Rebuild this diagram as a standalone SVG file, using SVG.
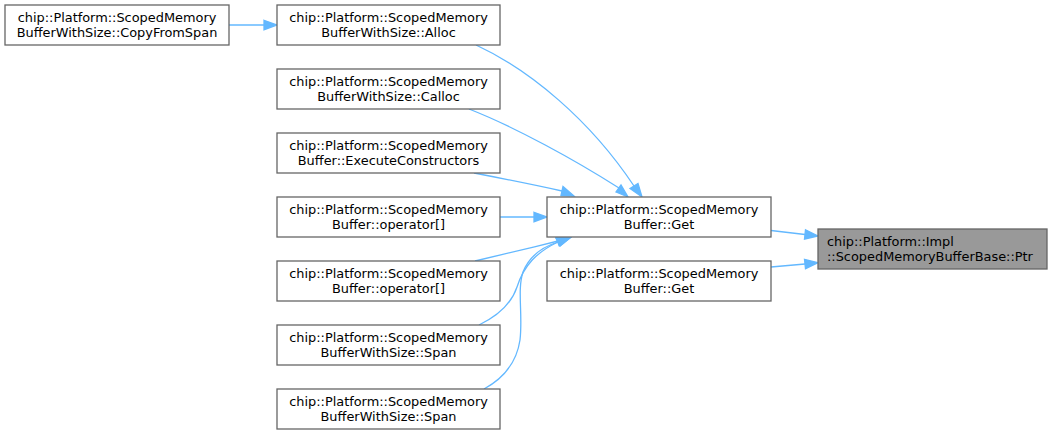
<svg xmlns="http://www.w3.org/2000/svg" width="1052" height="435" viewBox="0 0 1052 435">
<defs>
<style>
.n rect{fill:#ffffff;stroke:#666666;stroke-width:1.3}
.n.hl rect{fill:#999999}
.n text{font-family:"DejaVu Sans",sans-serif;font-size:12.9px;fill:#000000;text-anchor:middle}
.n.hl text{text-anchor:start}
.e path{fill:none;stroke:#63b8ff;stroke-width:1.3}
.e polygon{fill:#63b8ff;stroke:#63b8ff;stroke-width:1.3}
</style>
</defs>
<rect width="1052" height="435" fill="#ffffff"/>
<g id="edges" class="e">
<path d="M229,25 L264,25"/><polygon points="264,20.3 277,25 264,29.7"/>
<path d="M476,45 C530,70 590,120 634,186"/><polygon points="630,188.5 642,197 638,183.5"/>
<path d="M469,109 C515,127 575,160 619,188"/><polygon points="616,192 628,197 621,185"/>
<path d="M474,173 C500,178 535,185 562,191"/><polygon points="561,195.5 574,196 563,186.5"/>
<path d="M500,217 L534,217"/><polygon points="534,212.3 547,217 534,221.7"/>
<path d="M475,261 C500,255 530,248 558,241"/><polygon points="556,236.5 571,237 559,245.5"/>
<path d="M479,325 C500,315 512,302 517,287 C524,265 537,252 558,242"/><polygon points="556,238 571,237 560,246"/>
<path d="M484,389 C506,377 517,360 520,340 C523,315 517,290 523,272 C529,257 542,247 558,242"/><polygon points="556,238 571,237 560,246"/>
<path d="M771,230.5 L805,234.5"/><polygon points="805.5,229.8 818,236 804.5,239.2"/>
<path d="M771,267 L805,264"/><polygon points="804.5,259.3 818,262.7 805.5,268.7"/>
</g>
<g id="n_copyfromspan" class="n"><rect x="5" y="5" width="224" height="40"/><text x="117" y="22">chip::Platform::ScopedMemory</text><text x="117" y="36.5">BufferWithSize::CopyFromSpan</text></g>
<g id="n_alloc" class="n"><rect x="277" y="5" width="223" height="40"/><text x="388.5" y="22">chip::Platform::ScopedMemory</text><text x="388.5" y="36.5">BufferWithSize::Alloc</text></g>
<g id="n_calloc" class="n"><rect x="277" y="69" width="223" height="40"/><text x="388.5" y="86">chip::Platform::ScopedMemory</text><text x="388.5" y="100.5">BufferWithSize::Calloc</text></g>
<g id="n_execctor" class="n"><rect x="277" y="133" width="223" height="40"/><text x="388.5" y="150">chip::Platform::ScopedMemory</text><text x="388.5" y="164.5">Buffer::ExecuteConstructors</text></g>
<g id="n_op1" class="n"><rect x="277" y="197" width="223" height="40"/><text x="388.5" y="214">chip::Platform::ScopedMemory</text><text x="388.5" y="228.5">Buffer::operator[]</text></g>
<g id="n_op2" class="n"><rect x="277" y="261" width="223" height="40"/><text x="388.5" y="278">chip::Platform::ScopedMemory</text><text x="388.5" y="292.5">Buffer::operator[]</text></g>
<g id="n_span1" class="n"><rect x="277" y="325" width="223" height="40"/><text x="388.5" y="342">chip::Platform::ScopedMemory</text><text x="388.5" y="356.5">BufferWithSize::Span</text></g>
<g id="n_span2" class="n"><rect x="277" y="389" width="223" height="40"/><text x="388.5" y="406">chip::Platform::ScopedMemory</text><text x="388.5" y="420.5">BufferWithSize::Span</text></g>
<g id="n_get1" class="n"><rect x="547" y="197" width="224" height="40"/><text x="659" y="214">chip::Platform::ScopedMemory</text><text x="659" y="228.5">Buffer::Get</text></g>
<g id="n_get2" class="n"><rect x="547" y="261" width="224" height="40"/><text x="659" y="278">chip::Platform::ScopedMemory</text><text x="659" y="292.5">Buffer::Get</text></g>
<g id="n_ptr" class="n hl"><rect x="818" y="229" width="229" height="40"/><text x="827" y="246">chip::Platform::Impl</text><text x="827" y="260.5">::ScopedMemoryBufferBase::Ptr</text></g>
</svg>
